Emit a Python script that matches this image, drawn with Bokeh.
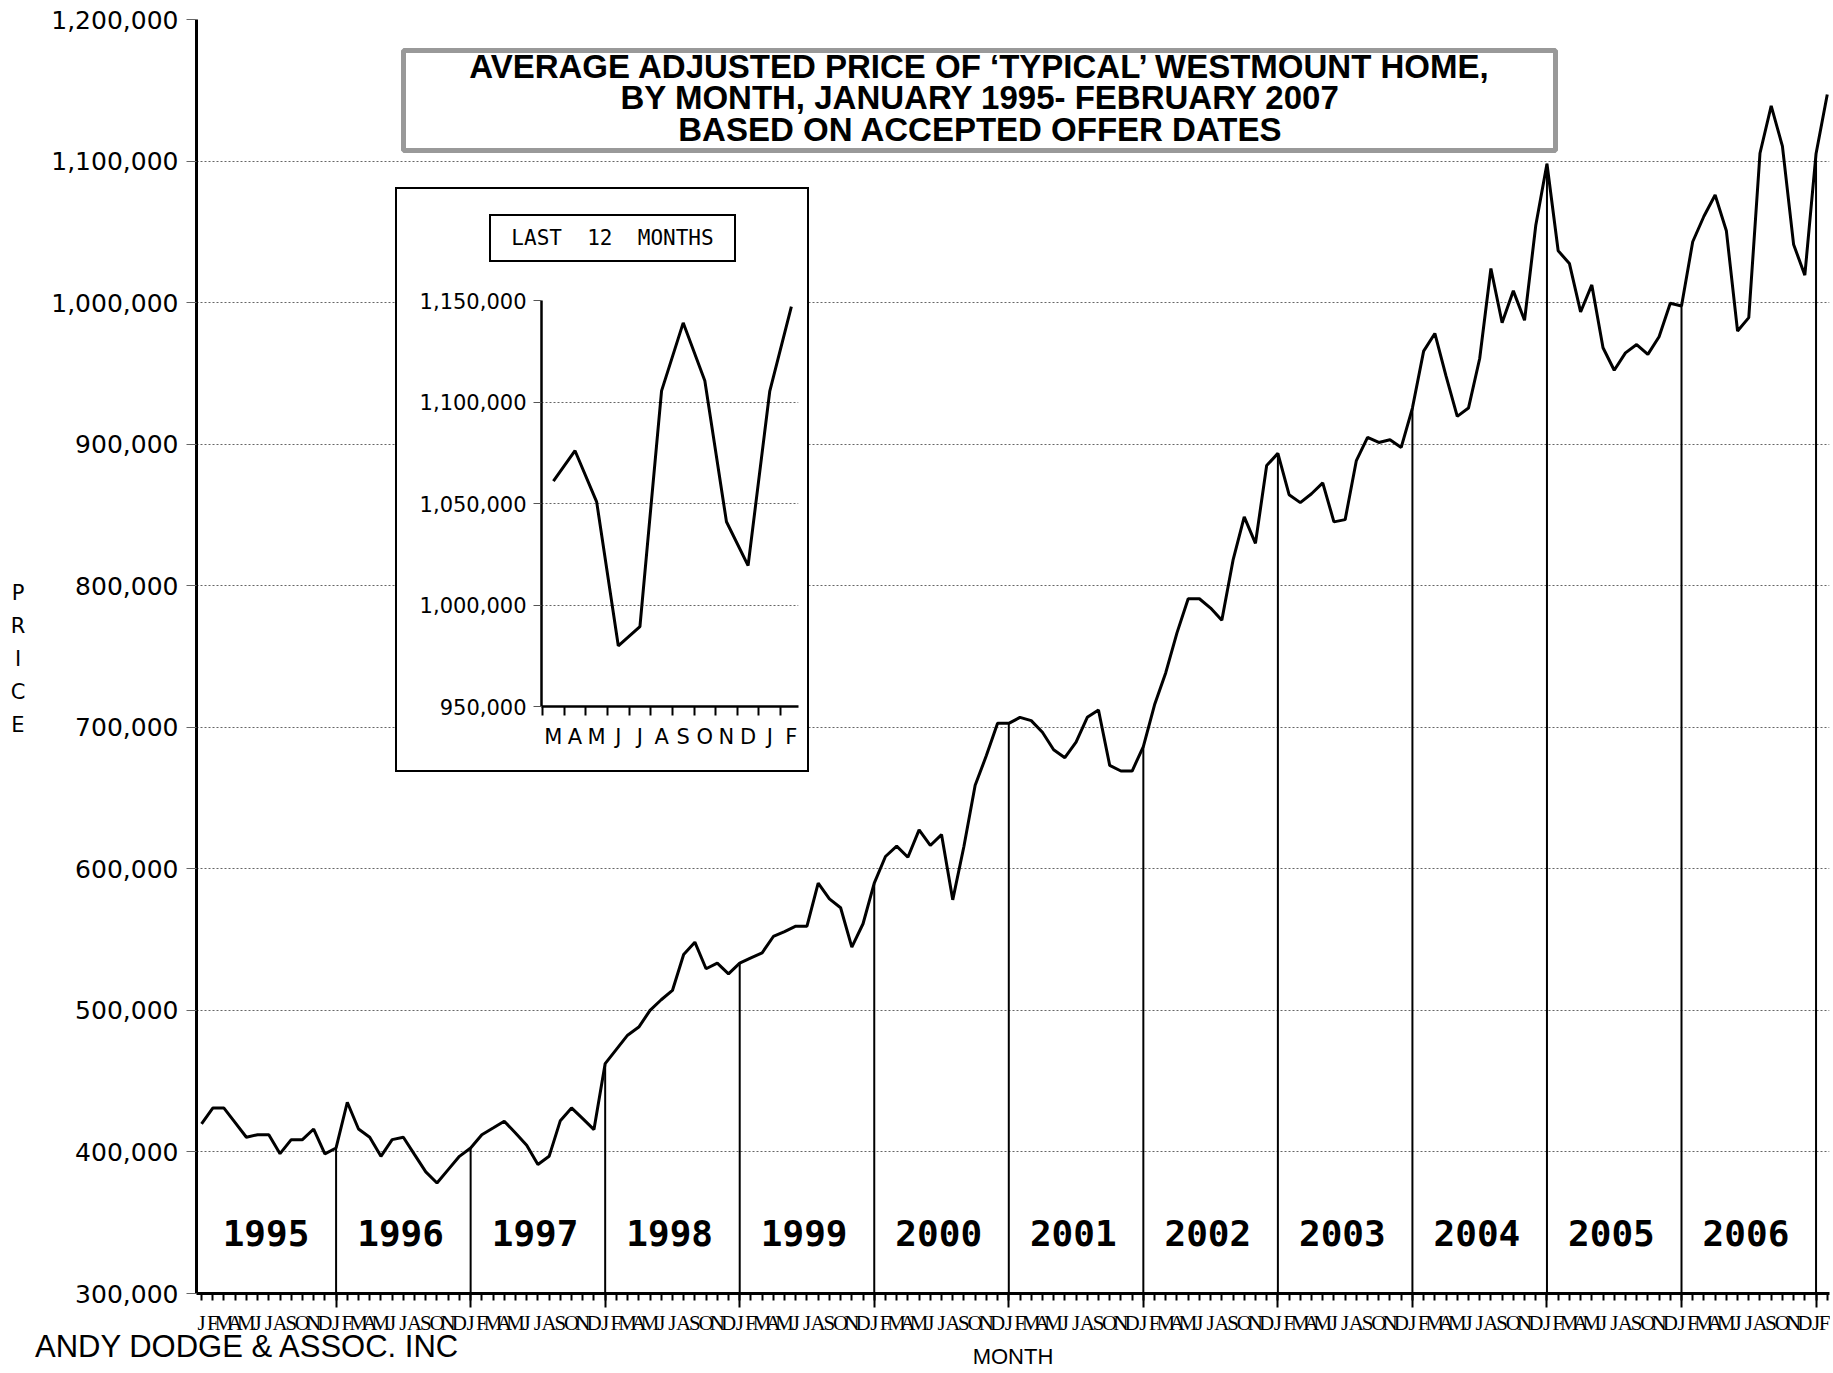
from bokeh.plotting import figure
from bokeh.models import (ColumnDataSource, FixedTicker, NumeralTickFormatter,
                          Label, BoxAnnotation, Range1d, Div)
from bokeh.embed import file_html
from bokeh.resources import INLINE
from bokeh.core.properties import value

# ---------------- data ----------------
MONTH_LETTERS = ["J", "F", "M", "A", "M", "J", "J", "A", "S", "O", "N", "D"]
YEARS = list(range(1995, 2007))
PRICES = [
    # 1995
    419800, 431000, 431000, 420700, 410400, 412200, 412200, 398800, 408700, 408700, 416200, 398600,
    # 1996
    402800, 435100, 416200, 410400, 396900, 408700, 410400, 398100, 385900, 378100, 387500, 396900,
    # 1997
    402800, 412200, 416900, 421700, 413400, 404700, 391100, 396900, 422100, 431100, 423500, 415800,
    # 1998
    462400, 472500, 482500, 488200, 500000, 507500, 514100, 539500, 548200, 529400, 533400, 525800,
    # 1999
    533400, 537100, 540700, 552200, 555700, 559500, 559500, 589900, 578800, 572500, 544700, 561200,
    # 2000
    589900, 608700, 616000, 608200, 627500, 616500, 624200, 578100, 616000, 659000, 680000, 702800,
    # 2001
    702800, 707000, 704700, 696500, 684100, 678500, 689500, 707000, 712200, 673100, 669100, 669100,
    # 2002
    686400, 715900, 738600, 766700, 790800, 790800, 784200, 775600, 818000, 848600, 829900, 884900,
    # 2003
    893500, 864300, 858700, 865000, 872700, 845100, 846700, 888400, 904800, 901200, 903100, 897700,
    # 2004
    925500, 965700, 978200, 948000, 919600, 925500, 960500, 1024100, 985800, 1008300, 987500, 1054400,
    # 2005
    1098100, 1036600, 1027700, 993400, 1012500, 968100, 952200, 964500, 970400, 963400, 975900, 999500,
    # 2006
    997600, 1043000, 1061000, 1076000, 1050800, 979900, 989400, 1105500, 1139000, 1110500, 1041000, 1019400,
    # 2007
    1105200, 1147000,
]
Y_TICKS = [300000, 400000, 500000, 600000, 700000, 800000, 900000, 1000000, 1100000, 1200000]

INSET_MONTHS = ["M", "A", "M", "J", "J", "A", "S", "O", "N", "D", "J", "F"]
INSET_PRICES = PRICES[-12:]
INSET_Y_TICKS = [950000, 1000000, 1050000, 1100000, 1150000]

TITLE_LINES = [
    "AVERAGE ADJUSTED PRICE OF \u2018TYPICAL\u2019 WESTMOUNT HOME,",
    "BY MONTH, JANUARY 1995- FEBRUARY 2007",
    "BASED ON ACCEPTED OFFER DATES",
]
CREDIT = "ANDY DODGE & ASSOC. INC"
Y_TITLE = "PRICE"
X_TITLE = "MONTH"
INSET_TITLE = "LAST  12  MONTHS"

# ---------------- main chart ----------------
idx = list(range(len(PRICES)))
jan_idx = [12 * k for k in range(1, len(YEARS) + 1) if 12 * k < len(PRICES)]
jan_price = [PRICES[i] for i in jan_idx]

X_START, X_END = -0.45, 145.2
Y_START, Y_END = Y_TICKS[0], Y_TICKS[-1]
# page-pixel geometry of the main frame (used only to place decorations)
F_L, F_R, F_T, F_B = 196.0, 1829.0, 19.0, 1293.0


def mx(px):
    return X_START + (px - F_L) * (X_END - X_START) / (F_R - F_L)


def my(py):
    return Y_END - (py - F_T) * (Y_END - Y_START) / (F_B - F_T)


p = figure(width=1822, height=1370, name="main",
           x_range=Range1d(X_START, X_END), y_range=Range1d(Y_START, Y_END),
           output_backend="svg", toolbar_location=None,
           min_border_left=188, min_border_right=1, min_border_top=19, min_border_bottom=77)
p.outline_line_color = None
p.background_fill_color = "white"
p.border_fill_color = "white"

yt = FixedTicker(ticks=Y_TICKS)
p.yaxis.ticker = yt
p.ygrid.ticker = yt
p.yaxis.formatter = NumeralTickFormatter(format="0,0")
p.yaxis.axis_line_width = 3
p.yaxis.axis_line_color = "black"
p.yaxis.major_tick_out = 10
p.yaxis.major_tick_in = 0
p.yaxis.major_tick_line_color = "#666666"
p.yaxis.minor_tick_line_color = None
p.yaxis.major_label_text_font = "DejaVu Sans"
p.yaxis.major_label_text_font_size = "25px"
p.yaxis.major_label_text_color = "black"
p.yaxis.major_label_standoff = 8

p.xgrid.visible = False
p.ygrid.grid_line_color = "#666666"
p.ygrid.grid_line_dash = "2 2"
p.ygrid.grid_line_width = 1

xt = FixedTicker(ticks=idx, minor_ticks=jan_idx)
p.xaxis.ticker = xt
p.xaxis.major_label_overrides = {i: MONTH_LETTERS[i % 12] for i in idx}
p.xaxis.major_label_text_font = "Liberation Sans Narrow"
p.xaxis.major_label_text_font_size = "21px"
p.xaxis.major_label_text_color = "black"
p.xaxis.major_label_standoff = 3
p.xaxis.axis_line_width = 3
p.xaxis.axis_line_color = "black"
p.xaxis.major_tick_out = 7
p.xaxis.major_tick_in = 0
p.xaxis.major_tick_line_width = 2
p.xaxis.minor_tick_out = 14
p.xaxis.minor_tick_in = 0
p.xaxis.minor_tick_line_width = 2
p.xaxis.minor_tick_line_color = "black"

src = ColumnDataSource(dict(x=idx, y=PRICES))
p.segment(x0=jan_idx, y0=[Y_START] * len(jan_idx), x1=jan_idx, y1=jan_price,
          line_color="black", line_width=2)
p.line("x", "y", source=src, line_color="black", line_width=3)

year_src = ColumnDataSource(dict(
    x=[(y - YEARS[0]) * 12 + 5.75 for y in YEARS],
    y=[my(1232)] * len(YEARS),
    t=[str(y) for y in YEARS],
))
p.text(x="x", y="y", text="t", source=year_src, text_font=value("DejaVu Sans Mono"),
       text_font_style="bold", text_font_size="36px", text_align="center",
       text_baseline="middle", text_color="black")

# title box
p.add_layout(BoxAnnotation(left=mx(403), right=mx(1555), top=my(50), bottom=my(150),
                           fill_color="white", fill_alpha=1.0,
                           line_color="#999999", line_alpha=1.0, line_width=5))
for line, py in zip(TITLE_LINES, [66, 97, 129]):
    p.add_layout(Label(x=mx(980), y=my(py), text=line, text_align="center",
                       text_baseline="middle", text_font="Liberation Sans",
                       text_font_style="bold", text_font_size="33px", text_color="black"))

# ---------------- inset chart ----------------
ins_idx = list(range(len(INSET_PRICES)))
IX_START, IX_END = -0.55, 11.33
IY_START, IY_END = INSET_Y_TICKS[0], INSET_Y_TICKS[-1]

ins = figure(width=410, height=581, name="inset",
             x_range=Range1d(IX_START, IX_END), y_range=Range1d(IY_START, IY_END),
             output_backend="svg", toolbar_location=None,
             min_border_left=144, min_border_right=9, min_border_top=111, min_border_bottom=64)
ins.outline_line_color = None
iyt = FixedTicker(ticks=INSET_Y_TICKS)
ins.yaxis.ticker = iyt
ins.ygrid.ticker = iyt
ins.yaxis.formatter = NumeralTickFormatter(format="0,0")
ins.yaxis.axis_line_width = 2.5
ins.yaxis.axis_line_color = "black"
ins.yaxis.major_tick_out = 8
ins.yaxis.major_tick_in = 0
ins.yaxis.major_tick_line_color = "#555555"
ins.yaxis.major_label_text_font = "DejaVu Sans"
ins.yaxis.major_label_text_font_size = "21px"
ins.yaxis.major_label_text_color = "black"
ins.yaxis.major_label_standoff = 7
ins.xgrid.visible = False
ins.ygrid.grid_line_color = "#666666"
ins.ygrid.grid_line_dash = "2 2"

ixt = FixedTicker(ticks=ins_idx, minor_ticks=[i - 0.5 for i in ins_idx])
ins.xaxis.ticker = ixt
ins.xaxis.major_label_overrides = {i: INSET_MONTHS[i] for i in ins_idx}
ins.xaxis.major_label_text_font = "DejaVu Sans"
ins.xaxis.major_label_text_font_size = "21px"
ins.xaxis.major_label_text_color = "black"
ins.xaxis.major_tick_out = 0
ins.xaxis.major_tick_in = 0
ins.xaxis.major_label_standoff = 9
ins.xaxis.minor_tick_out = 9
ins.xaxis.minor_tick_in = 0
ins.xaxis.minor_tick_line_width = 2
ins.xaxis.minor_tick_line_color = "black"
ins.xaxis.axis_line_width = 2.5
ins.xaxis.axis_line_color = "black"

ins.line(ins_idx, INSET_PRICES, line_color="black", line_width=3)

# ---------------- texts outside the plot frames ----------------
credit = Div(text=CREDIT, render_as_text=True, name="credit", width=460, height=38, margin=0,
             styles={"font-family": "Liberation Sans", "font-size": "31px", "color": "black",
                     "line-height": "38px", "white-space": "nowrap"})
price = Div(text="\n".join(Y_TITLE), render_as_text=True, name="price", width=22, height=170,
            margin=0,
            styles={"font-family": "DejaVu Sans", "font-size": "21px", "color": "black",
                    "line-height": "33px", "white-space": "pre", "text-align": "center"})
month = Div(text=X_TITLE, render_as_text=True, name="month", width=120, height=28, margin=0,
            styles={"font-family": "Liberation Sans", "font-size": "22px", "color": "black",
                    "line-height": "28px", "white-space": "nowrap", "text-align": "center"})
last12 = Div(text=INSET_TITLE, render_as_text=True, name="last12", width=247, height=48, margin=0,
             styles={"font-family": "DejaVu Sans Mono", "font-size": "21px", "color": "black",
                     "line-height": "44px", "white-space": "pre", "text-align": "center",
                     "border": "2px solid black", "box-sizing": "border-box",
                     "background": "white"})

# main canvas starts at the page top (so the top tick label is not cut) and 8px from the left
TEMPLATE = """
{% block contents %}
{% from macros import embed %}
<div style="position: relative; margin: 0 0 0 8px;">
{{ embed(roots.main) }}
<div style="position: absolute; left: -1px; top: 577px;">{{ embed(roots.price) }}</div>
<div style="position: absolute; left: 27px; top: 1328px;">{{ embed(roots.credit) }}</div>
<div style="position: absolute; left: 945px; top: 1343px;">{{ embed(roots.month) }}</div>
<div style="position: absolute; left: 387px; top: 187px; border: 2px solid #000; background: #fff;">
{{ embed(roots.inset) }}
<div style="position: absolute; left: 92px; top: 25px;">{{ embed(roots.last12) }}</div>
</div>
</div>
{% endblock %}
"""

open("out.html", "w").write(file_html([p, ins, credit, price, month, last12], INLINE,
                                      template=TEMPLATE))
